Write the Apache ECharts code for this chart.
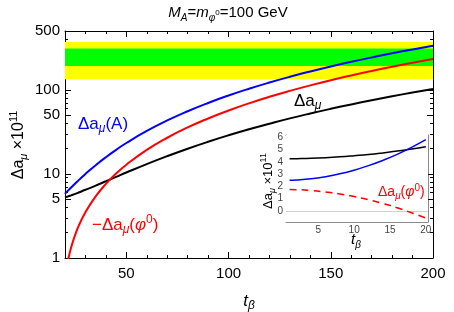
<!DOCTYPE html>
<html><head><meta charset="utf-8">
<script src="https://cdn.jsdelivr.net/npm/echarts@6/dist/echarts.min.js"></script>
<style>html,body{margin:0;padding:0;background:#fff}#c{width:454px;height:312px}</style>
</head><body><div id="c"></div>
<script>
// ---- main panel data ----
const tb = [20,21,22,23,25,27,30,35,40,45,50,60,70,80,90,100,110,120,130,140,150,160,170,180,190,200];
const daA   = [5.8,6.16,6.5,6.89,7.7,8.55,10.0,12.7,15.8,19.3,23.3,32.4,43.2,55.6,69.7,85.5,102.9,122,142.8,165.2,189.3,215,242.4,271.4,302.1,334.5];
const mdaPhi= [0.58,0.82,1.07,1.33,1.9,2.5,3.51,5.41,7.6,10.09,12.87,19.3,26.9,35.7,45.6,56.7,69.0,82.5,97.1,112.9,129.9,148,167.3,187.8,209.4,232.2];
const daTot = [5.24,5.34,5.45,5.56,5.79,6.05,6.47,7.26,8.18,9.22,10.39,13.08,16.26,19.94,24.1,28.76,33.9,39.5,45.7,52.3,59.4,67.0,75.1,83.7,92.7,102.3];
const band1 = [192, 310];   // 1 sigma (green)
const band2 = [133, 369];   // 2 sigma (yellow)
const xTickLabels = [50,100,150,200];
const xMinorTicks = [20,30,40,60,70,80,90,110,120,130,140,160,170,180,190];
const yTickLabels = [1,5,10,50,100,500];
const yMinorTicks = [2,3,4,6,7,8,9,20,30,40,60,70,80,90,200,300,400];
// ---- inset data ----
const tbIn   = [1,2,4,6,8,10,12,14,16,18,20];
const daAIn  = [2.51,2.53,2.63,2.80,3.03,3.33,3.70,4.13,4.62,5.19,5.82];
const daPhiIn= [1.75,1.74,1.67,1.55,1.39,1.18,0.92,0.61,0.26,-0.14,-0.58];
const daTotIn= [4.26,4.27,4.30,4.35,4.42,4.51,4.61,4.74,4.89,5.05,5.24];
const xInLabels = [5,10,15,20];
const xInMinor = [1,2,3,4,6,7,8,9,11,12,13,14,16,17,18,19];
const yInLabels = [0,1,2,3,4,5,6];
const yInMinor = [-0.8,-0.6,-0.4,-0.2,0.2,0.4,0.6,0.8,1.2,1.4,1.6,1.8,2.2,2.4,2.6,2.8,3.2,3.4,3.6,3.8,4.2,4.4,4.6,4.8,5.2,5.4,5.6,5.8];

const F = 'Liberation Sans';
const pairs = (xs, ys) => xs.map((x, i) => [x, ys[i]]);

function axis(o) {
  return Object.assign({
    type: 'value', splitLine: {show: false},
    axisLine: {show: false}, axisTick: {show: false}, axisLabel: {show: false}
  }, o);
}
function line(color, width) { return {show: true, onZero: false, lineStyle: {color, width}}; }
function ticks(vals, len, color) { return {show: true, inside: true, length: len, customValues: vals, lineStyle: {color, width: 1}}; }
function labels(vals, size, color, margin) { return {show: true, customValues: vals, fontSize: size, fontFamily: F, color, margin}; }

function rich(size, color) {
  const s = Math.round(size * 0.68), ss = Math.round(size * 0.55);
  return {
    n: {fontSize: size, fontFamily: F, color, lineHeight: Math.round(size * 1.3)},
    i: {fontSize: size, fontFamily: F, fontStyle: 'italic', color, lineHeight: Math.round(size * 1.3)},
    sub: {fontSize: s, fontFamily: F, color, verticalAlign: 'bottom', lineHeight: s},
    isub: {fontSize: s, fontFamily: F, fontStyle: 'italic', color, verticalAlign: 'bottom', lineHeight: s},
    sup: {fontSize: s, fontFamily: F, color, verticalAlign: 'top', lineHeight: s},
    ssup: {fontSize: ss, fontFamily: F, color, verticalAlign: 'middle', lineHeight: ss}
  };
}
function txt(text, x, y, size, color, align, rot) {
  return {type: 'text', x, y, rotation: rot || 0, z: 100,
    style: {text, rich: rich(size, color), align: align || 'left', verticalAlign: 'middle', fontFamily: F, fontSize: size, fill: color}};
}

const chart = echarts.init(document.getElementById('c'), null, {renderer: 'canvas'});
const mainX = {gridIndex: 0, min: 20, max: 200};
const mainY = {gridIndex: 0, type: 'log', logBase: 10, min: 1, max: 500};
const inX = {gridIndex: 1, min: 0.5, max: 20.3};
const inY = {gridIndex: 1, min: -0.9, max: 6.2};
const gray = '#8c8c8c';

chart.setOption({
  animation: false,
  backgroundColor: '#fff',
  grid: [
    {left: 65, top: 31, width: 368, height: 227},
    {left: 286, top: 135, width: 142, height: 87, show: true, backgroundColor: '#fff', borderWidth: 0, z: 5}
  ],
  xAxis: [
    axis(Object.assign({}, mainX, {position: 'bottom', axisLine: line('#000', 1), axisTick: ticks(xMinorTicks, 3, '#000'), axisLabel: labels(xTickLabels, 15, '#000', 8)})),
    axis(Object.assign({}, mainX, {position: 'top', axisLine: line('#000', 1), axisTick: ticks(xMinorTicks, 3, '#000')})),
    axis(Object.assign({}, mainX, {position: 'bottom', axisTick: ticks(xTickLabels, 6, '#000')})),
    axis(Object.assign({}, mainX, {position: 'top', axisTick: ticks(xTickLabels, 6, '#000')})),
    axis(Object.assign({}, inX, {position: 'bottom', axisLine: line(gray, 1), axisTick: ticks(xInMinor, 2, gray), axisLabel: labels(xInLabels, 10, '#444', 3)})),
    axis(Object.assign({}, inX, {position: 'top', axisLine: line(gray, 1), axisTick: ticks(xInMinor, 2, gray)})),
    axis(Object.assign({}, inX, {position: 'bottom', axisTick: ticks(xInLabels, 4, gray)})),
    axis(Object.assign({}, inX, {position: 'top', axisTick: ticks(xInLabels, 4, gray)}))
  ],
  yAxis: [
    axis(Object.assign({}, mainY, {position: 'left', axisLine: line('#000', 1), axisTick: ticks(yMinorTicks, 3, '#000'), axisLabel: labels(yTickLabels, 15, '#000', 5)})),
    axis(Object.assign({}, mainY, {position: 'right', axisLine: line('#000', 1), axisTick: ticks(yMinorTicks, 3, '#000')})),
    axis(Object.assign({}, mainY, {position: 'left', axisTick: ticks(yTickLabels, 6, '#000')})),
    axis(Object.assign({}, mainY, {position: 'right', axisTick: ticks(yTickLabels, 6, '#000')})),
    axis(Object.assign({}, inY, {position: 'left', axisLine: line(gray, 1), axisTick: ticks(yInMinor, 2, gray), axisLabel: labels(yInLabels, 10, '#444', 3)})),
    axis(Object.assign({}, inY, {position: 'right', axisLine: line(gray, 1), axisTick: ticks(yInMinor, 2, gray)})),
    axis(Object.assign({}, inY, {position: 'left', axisTick: ticks(yInLabels, 4, gray)})),
    axis(Object.assign({}, inY, {position: 'right', axisTick: ticks(yInLabels, 4, gray)}))
  ],
  series: [
    {type: 'line', xAxisIndex: 0, yAxisIndex: 0, data: [], z: 1, silent: true,
     markArea: {silent: true, data: [
       [{yAxis: band2[0], itemStyle: {color: '#ffff00'}}, {yAxis: band2[1]}],
       [{yAxis: band1[0], itemStyle: {color: '#00ff00'}}, {yAxis: band1[1]}]
     ]}},
    {type: 'line', xAxisIndex: 0, yAxisIndex: 0, data: pairs(tb, daTot), smooth: true, showSymbol: false, z: 3, lineStyle: {color: '#000', width: 2}},
    {type: 'line', xAxisIndex: 0, yAxisIndex: 0, data: pairs(tb, mdaPhi), smooth: true, showSymbol: false, z: 3, clip: true, lineStyle: {color: '#ff0000', width: 2}},
    {type: 'line', xAxisIndex: 0, yAxisIndex: 0, data: pairs(tb, daA), smooth: true, showSymbol: false, z: 3, lineStyle: {color: '#0000ff', width: 2}},
    {type: 'line', xAxisIndex: 4, yAxisIndex: 4, data: pairs(tbIn, daTotIn), smooth: true, showSymbol: false, z: 10, lineStyle: {color: '#000', width: 1.5},
     markLine: {silent: true, symbol: 'none', label: {show: false}, lineStyle: {color: '#d0d0d0', width: 1, type: 'solid'}, data: [{yAxis: 0}]}},
    {type: 'line', xAxisIndex: 4, yAxisIndex: 4, data: pairs(tbIn, daAIn), smooth: true, showSymbol: false, z: 10, lineStyle: {color: '#0000ff', width: 1.5}},
    {type: 'line', xAxisIndex: 4, yAxisIndex: 4, data: pairs(tbIn, daPhiIn), smooth: true, showSymbol: false, z: 10, lineStyle: {color: '#ff0000', width: 1.5, type: [7, 5]}}
  ],
  graphic: [
    txt('{i|M}{isub|A}{n|=}{i|m}{isub|φ}{ssup|0}{n|=100 GeV}', 228, 13, 15, '#000', 'center'),
    txt('{n|Δa}{isub|μ}{n| ×10}{sup|11}', 19, 145, 16, '#000', 'center', Math.PI / 2),
    txt('{i|t}{isub|β}', 249, 301, 17, '#000', 'center'),
    txt('{n|Δa}{isub|μ}{n|(A)}', 78, 124, 17, '#0000ff', 'left'),
    txt('{n|−Δa}{isub|μ}{n|(}{i|φ}{sup|0}{n|)}', 92, 225, 17, '#ff0000', 'left'),
    txt('{n|Δa}{isub|μ}', 294, 101, 17, '#000', 'left'),
    txt('{n|Δa}{isub|μ}{n|(}{i|φ}{sup|0}{n|)}', 378, 192, 14, '#ff0000', 'left'),
    txt('{n|Δa}{isub|μ}{n| ×10}{sup|11}', 268, 181, 13, '#000', 'center', Math.PI / 2),
    txt('{i|t}{isub|β}', 356, 240, 15, '#000', 'center')
  ]
});
</script></body></html>
